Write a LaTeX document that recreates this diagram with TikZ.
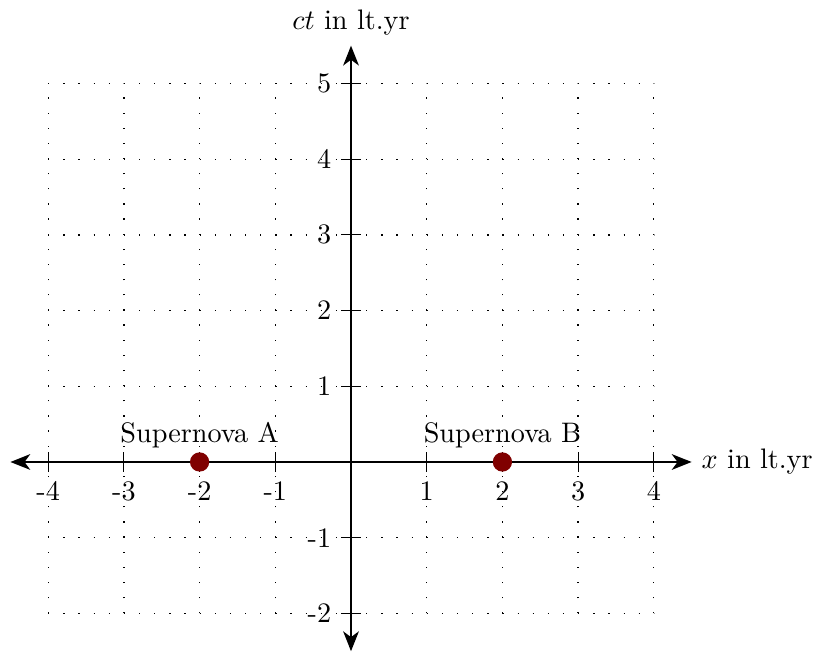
\documentclass[tikz,border=0pt]{standalone}
\usetikzlibrary{arrows.meta}
\definecolor{snred}{RGB}{128,0,0}
\begin{document}
\begin{tikzpicture}[x=0.943cm,y=0.943cm,
  gridline/.style={line width=0.45pt,dash pattern=on 0.45pt off 4.916pt},
  axisline/.style={line width=1pt,{Stealth[length=7pt,width=5.5pt,inset=2pt]}-{Stealth[length=7pt,width=5.5pt,inset=2pt]}},
  tickline/.style={line width=0.4pt},
  ticklab/.style={inner sep=3.33pt},
  event/.style={circle,fill=snred,inner sep=0pt,minimum size=0.24cm},
  evlab/.style={anchor=south,inner sep=3.33pt}]
\useasboundingbox (-4.637,-2.497) rectangle (6.235,6.103);
% grid
\foreach \x in {-4,...,4} \draw[gridline] (\x,-2) -- (\x,5);
\foreach \y in {-2,...,5} \draw[gridline] (-4,\y) -- (4,\y);
% axes
\coordinate (xl) at (-4.5,0);
\coordinate (xr) at (4.5,0);
\coordinate (yb) at (0,-2.5);
\coordinate (yt) at (0,5.5);
\draw[axisline] (xl) -- (xr);
\draw[axisline] (yb) -- (yt);
\node[anchor=west,inner sep=3.33pt] (xlab) at (xr) {$x$ in lt.yr};
\node[anchor=south,inner sep=3.33pt] (ylab) at (yt) {$ct$ in lt.yr};
% ticks
\foreach \x in {-4,-3,-2,-1,1,2,3,4} {
  \draw[tickline] (\x,0.13) -- (\x,-0.13);
  \node[ticklab,anchor=north] (tx\x) at (\x,-0.13) {\x};
}
\foreach \y in {-2,-1,1,2,3,4,5} {
  \draw[tickline] (0.13,\y) -- (-0.13,\y);
  \node[ticklab,anchor=east] (ty\y) at (-0.13,\y) {\y};
}
% events
\node[event] (A) at (-2,0) {};
\node[event] (B) at (2,0) {};
\node[evlab] (Alab) at (-2,0.06) {Supernova A};
\node[evlab] (Blab) at (2,0.06) {Supernova B};
\end{tikzpicture}
\end{document}
